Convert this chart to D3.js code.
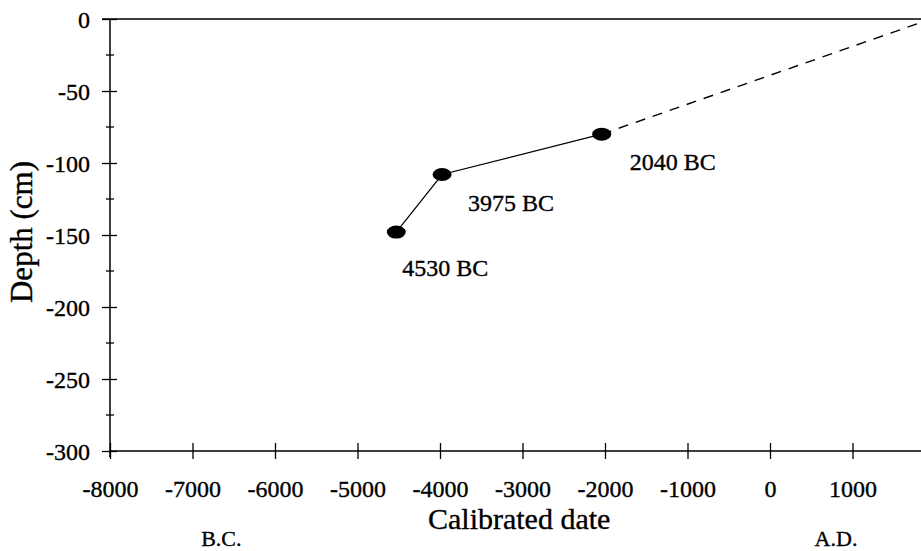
<!DOCTYPE html>
<html>
<head>
<meta charset="utf-8">
<script src="https://cdn.jsdelivr.net/npm/d3@7"></script>
<style>
  html, body { margin: 0; padding: 0; background: #fff; }
  svg { display: block; }
  text { font-family: "Liberation Serif", "Times New Roman", serif; fill: #000; stroke: #000; stroke-width: 0.35px; }
</style>
</head>
<body>
<svg id="chart"></svg>
<script>
// radiocarbon dates (calibrated, negative = BC) and their depths
const dates = [-4530, -3975, -2040];
const depths = [-148, -108, -80];
const dateLabels = ['4530 BC', '3975 BC', '2040 BC'];
// extrapolation to the surface
const surfaceYear = 1950;
const surfaceDepth = 0;

const xTicks = [-8000, -7000, -6000, -5000, -4000, -3000, -2000, -1000, 0, 1000];
const yTicks = [0, -50, -100, -150, -200, -250, -300];
const yMinorTicks = [-25, -75, -125, -175, -225, -275];

window.addEventListener('load', () => {
    let width = 921;
    let height = 551;

    let svg = d3.select('#chart')
                .attr('width', width)
                .attr('height', height);

    let x = d3.scaleLinear().domain([-8000, 2000]).range([110, 935]);
    let y = d3.scaleLinear().domain([0, -300]).range([19, 451]);

    let fmt = d => String(d); // plain hyphen, as in the original

    // top frame line
    svg.append('line')
       .attr('x1', x(-8000) - 8).attr('x2', width)
       .attr('y1', y(0)).attr('y2', y(0))
       .attr('stroke', '#000').attr('stroke-width', 1.5);

    // x axis, ticks cross the line
    let xAxis = svg.append('g')
                   .attr('transform', `translate(0,${y(-300)})`)
                   .call(d3.axisBottom(x).tickValues(xTicks).tickSize(0).tickPadding(0).tickFormat(fmt));
    xAxis.select('.domain').remove();
    xAxis.append('line')
         .attr('x1', x(-8000)).attr('x2', width)
         .attr('stroke', '#000').attr('stroke-width', 1.5);
    xAxis.selectAll('.tick line').attr('y1', -8).attr('y2', 8).attr('stroke', '#000').attr('stroke-width', 1.3);
    xAxis.selectAll('.tick text')
         .attr('y', 46).attr('dy', 0)
         .style('font-size', '24px');

    // y axis
    let yAxis = svg.append('g')
                   .attr('transform', `translate(${x(-8000)},0)`)
                   .call(d3.axisLeft(y).tickValues(yTicks).tickSize(0).tickPadding(0).tickFormat(fmt));
    yAxis.select('.domain').remove();
    yAxis.append('line')
         .attr('y1', y(0)).attr('y2', y(-300) + 6)
         .attr('stroke', '#000').attr('stroke-width', 1.5);
    yAxis.selectAll('.tick line').attr('x1', -8).attr('x2', 7).attr('stroke', '#000').attr('stroke-width', 1.3);
    yAxis.selectAll('.tick text')
         .attr('x', -20).attr('dy', '0.35em')
         .style('font-size', '24px');

    yAxis.selectAll('.minor')
         .data(yMinorTicks)
         .enter().append('line')
         .attr('class', 'minor')
         .attr('x1', -4).attr('x2', 4)
         .attr('y1', d => y(d)).attr('y2', d => y(d))
         .attr('stroke', '#000').attr('stroke-width', 1.3);

    // axis titles
    svg.append('text')
       .attr('transform', `translate(32,${(y(0) + y(-300)) / 2 - 3}) rotate(-90)`)
       .attr('text-anchor', 'middle')
       .style('font-size', '31px')
       .text('Depth (cm)');

    svg.append('text')
       .attr('x', x(-3040)).attr('y', 529)
       .attr('text-anchor', 'middle')
       .style('font-size', '30px')
       .text('Calibrated date');

    svg.append('text')
       .attr('x', x(-6650)).attr('y', 546)
       .attr('text-anchor', 'middle')
       .style('font-size', '22px')
       .text('B.C.');

    svg.append('text')
       .attr('x', x(800)).attr('y', 546)
       .attr('text-anchor', 'middle')
       .style('font-size', '22px')
       .text('A.D.');

    let pts = dates.map((d, i) => ({date: d, depth: depths[i], label: dateLabels[i]}));

    // dashed extrapolation to surface
    let last = pts[pts.length - 1];
    svg.append('path')
       .attr('d', d3.line()([[x(last.date), y(last.depth)], [x(surfaceYear), y(surfaceDepth)]]))
       .attr('fill', 'none').attr('stroke', '#000')
       .attr('stroke-width', 1.4)
       .attr('stroke-dasharray', '10,8');

    svg.append('path')
       .datum(pts)
       .attr('d', d3.line().x(d => x(d.date)).y(d => y(d.depth)))
       .attr('fill', 'none').attr('stroke', '#000')
       .attr('stroke-width', 1.2);

    svg.selectAll('.dot')
       .data(pts)
       .enter().append('ellipse')
       .attr('class', 'dot')
       .attr('cx', d => x(d.date)).attr('cy', d => y(d.depth))
       .attr('rx', 9.5).attr('ry', 6.5)
       .attr('fill', '#000');

    // label offsets differ per point
    svg.selectAll('.date-label')
       .data(pts)
       .enter().append('text')
       .attr('class', 'date-label')
       .attr('x', (d, i) => x(d.date) + [6, 26, 28][i])
       .attr('y', (d, i) => y(d.depth) + [44, 36, 36][i])
       .style('font-size', '24px')
       .text(d => d.label);
});
</script>
</body>
</html>
